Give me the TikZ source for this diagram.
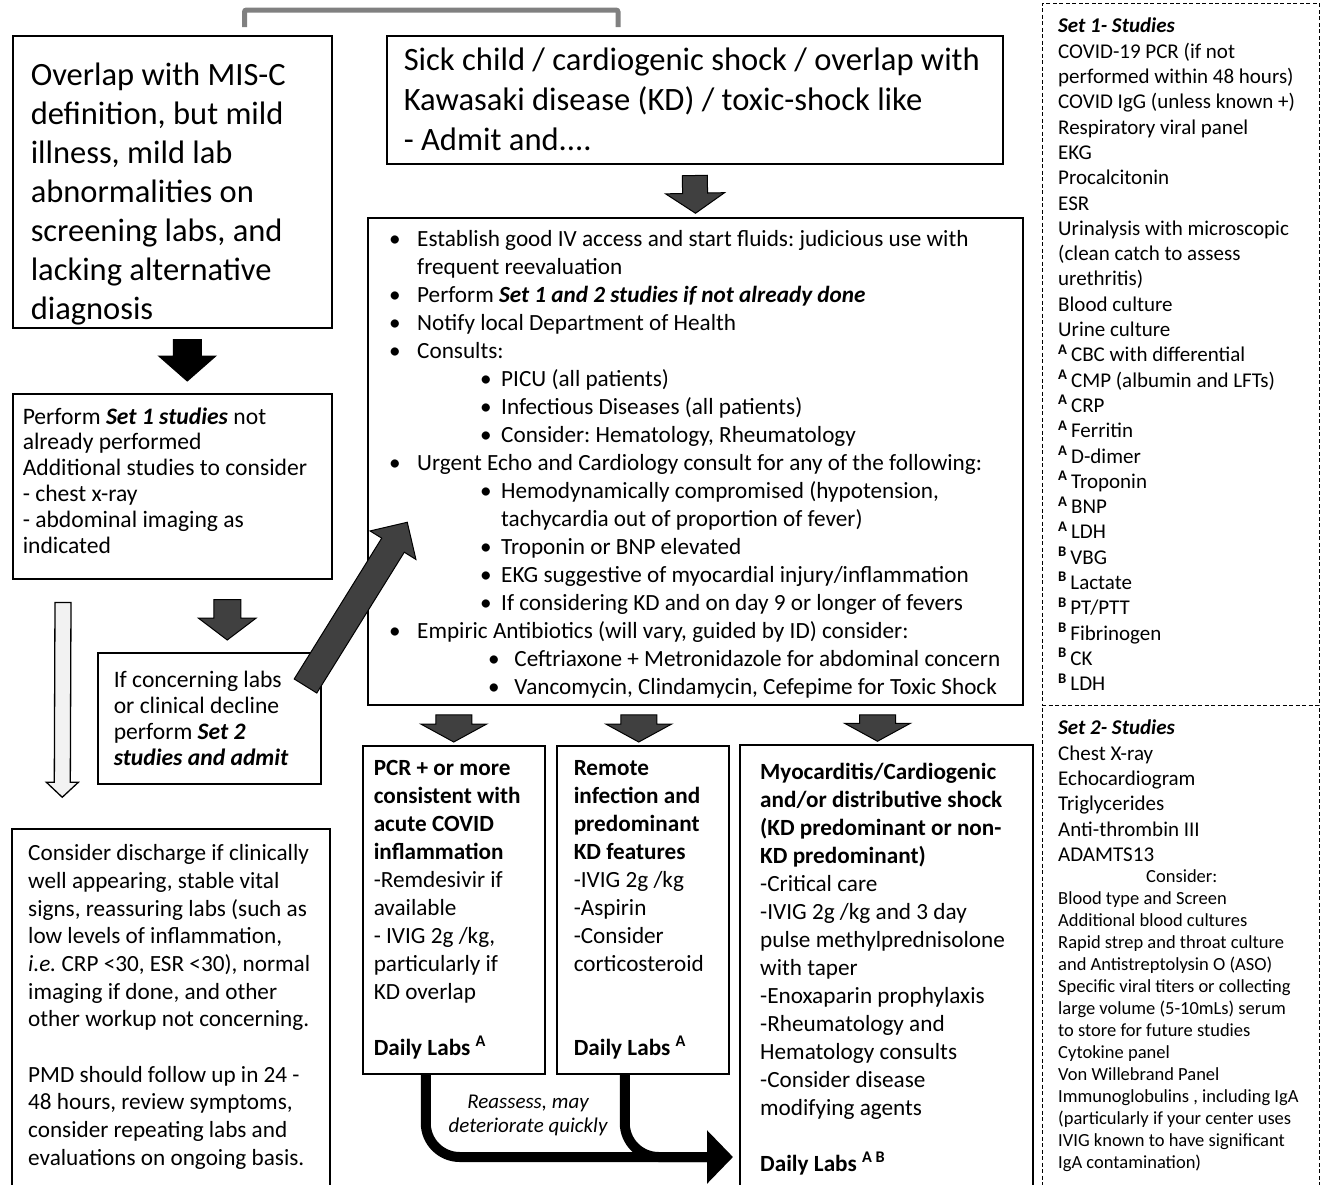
\documentclass[tikz,border=0pt]{standalone}
\usepackage{fontspec}
\setmainfont{Carlito}
\usetikzlibrary{calc,fit,arrows.meta}
\frenchspacing

\definecolor{arrowgray}{HTML}{404040}
\definecolor{bracketgray}{HTML}{808080}
\definecolor{palegray}{HTML}{F2F2F2}

\newcommand\bl{\makebox[28pt][l]{\textbullet}}
\newcommand\sbl[1][91pt]{\hspace*{#1}\makebox[21pt][l]{\textbullet}}
\newcommand\labsup[1]{\textsuperscript{\textbf{#1}}}
% block arrow: style, tail, tip, half shaft, half head, head length
\newcommand\blkarrow[6]{%
  \coordinate (neck) at ($(#3)!#6!(#2)$);
  \filldraw[#1] ($(#2)!#4!90:(#3)$) -- ($(neck)!#4!90:(#3)$)
    -- ($(neck)!#5!90:(#3)$) -- (#3) -- ($(neck)!#5!-90:(#3)$)
    -- ($(neck)!#4!-90:(#3)$) -- ($(#2)!#4!-90:(#3)$) -- cycle;
}

\begin{document}
\begin{tikzpicture}[x=1pt,y=-1pt,
    box/.style={draw,line width=1.5pt,anchor=north west,align=flush left,inner ysep=0pt},
    frame/.style={draw,line width=1.5pt,inner sep=0pt},
    txt/.style={anchor=north west,align=left,inner sep=0pt},
    panel/.style={draw,dash pattern=on 4pt off 2.5pt,line width=1pt,inner sep=0pt},
    big/.style={font=\fontsize{32.5}{39}\selectfont},
    head/.style={font=\fontsize{32.6}{40}\selectfont},
    mid/.style={font=\fontsize{23.6}{25.8}\selectfont},
    ebody/.style={font=\fontsize{23.2}{28}\selectfont},
    body/.style={font=\fontsize{23.2}{28}\selectfont},
    home/.style={font=\fontsize{23.2}{27.7}\selectfont},
    list/.style={font=\fontsize{21}{25.3}\selectfont},
    small/.style={font=\fontsize{18.5}{22}\selectfont},
    darrow/.style={fill=arrowgray,draw=black,line width=1pt},
    karrow/.style={fill=black,draw=black,line width=1pt},
    warrow/.style={fill=palegray,draw=black,line width=1.3pt},
    bracket/.style={draw=bracketgray,line width=5pt,rounded corners=2pt},
    flow/.style={line width=10pt,rounded corners=34pt}]
  \useasboundingbox (0,0) rectangle (1322,1184);
  \clip (0,0) rectangle (1322,1184);

  % entry boxes
  \node[box,big,text width=283pt,inner xsep=18pt,minimum height=292pt] (mild) at (12,35)
    {\rule{0pt}{48pt}Overlap with MIS-C\\definition, but mild\\illness, mild lab\\abnormalities on\\screening labs, and\\lacking alternative\\diagnosis};
  \node[box,head,text width=582pt,inner xsep=17pt,minimum height=128pt] (sick) at (386,35)
    {Sick child / cardiogenic shock / overlap with\\Kawasaki disease (KD) / toxic-shock like\\- Admit and....};
  \draw[bracket] ([xshift=-88pt,yshift=8pt]mild.north east) -- ++(0,-17)
    -| ([xshift=232pt,yshift=8pt]sick.north west);

  % mild branch
  \node[box,mid,text width=299pt,inner xsep=10pt,minimum height=185pt] (setone) at (12,393)
    {Perform \textbf{\textit{Set 1 studies}} not\\already performed\\Additional studies to consider\\- chest x-ray\\- abdominal imaging as\\indicated\rule[-12pt]{0pt}{0pt}};
  \node[box,mid,text width=191pt,inner xsep=16pt,minimum height=131pt] (settwo) at (97,652)
    {If concerning labs\\or clinical decline\\perform \textbf{\textit{Set 2}}\\\textbf{\textit{studies and admit}}};
  \node[frame,fit={(12,829) (330,1195)}] (home) {};
  \node[txt,home] (hometext) at (28,841)
    {\strut Consider discharge if clinically\\well appearing, stable vital\\signs, reassuring labs (such as\\low levels of inflammation,\\\textit{i.e.} CRP <30, ESR <30), normal\\imaging if done, and other\\other workup not concerning.\\[27.7pt]PMD should follow up in 24 -\\48 hours, review symptoms,\\consider repeating labs and\\evaluations on ongoing basis.};

  % admitted branch
  \node[frame,fit={(368,218) (1023,705)}] (admit) {};
  \node[txt,ebody] (admittext) at (389,227)
    {\strut\bl Establish good IV access and start fluids: judicious use with\\
     \hspace*{28pt}frequent reevaluation\\
     \bl Perform \textbf{\textit{Set 1 and 2 studies if not already done}}\\
     \bl Notify local Department of Health\\
     \bl Consults:\\
     \sbl PICU (all patients)\\
     \sbl Infectious Diseases (all patients)\\
     \sbl Consider: Hematology, Rheumatology\\
     \bl Urgent Echo and Cardiology consult for any of the following:\\
     \sbl Hemodynamically compromised (hypotension,\\
     \hspace*{112pt}tachycardia out of proportion of fever)\\
     \sbl Troponin or BNP elevated\\
     \sbl EKG suggestive of myocardial injury/inflammation\\
     \sbl If considering KD and on day 9 or longer of fevers\\
     \bl Empiric Antibiotics (will vary, guided by ID) consider:\\
     \sbl[99pt] Ceftriaxone + Metronidazole for abdominal concern\\
     \sbl[99pt] Vancomycin, Clindamycin, Cefepime for Toxic Shock};
  \node[box,body,text width=160pt,inner xsep=11pt,minimum height=328pt] (pcr) at (362,745)
    {\textbf{PCR + or more}\\\textbf{consistent with}\\\textbf{acute COVID}\\\textbf{inflammation}\\-Remdesivir if\\available\\- IVIG 2g /kg,\\particularly if\\KD overlap\\[28pt]\textbf{Daily Labs \labsup{A}}};
  \node[box,body,text width=138pt,inner xsep=17pt,minimum height=328pt] (remote) at (556,745)
    {\textbf{Remote}\\\textbf{infection and}\\\textbf{predominant}\\\textbf{KD features}\\-IVIG 2g /kg\\-Aspirin\\-Consider\\corticosteroid\\[56pt]\textbf{Daily Labs \labsup{A}}};
  \node[frame,fit={(740,745) (1033,1195)}] (shock) {};
  \node[txt,body] (shocktext) at (760,760)
    {\strut\textbf{Myocarditis/Cardiogenic}\\\textbf{and/or distributive shock}\\\textbf{(KD predominant or non-}\\\textbf{KD predominant)}\\-Critical care\\-IVIG 2g /kg and 3 day\\pulse methylprednisolone\\with taper\\-Enoxaparin prophylaxis\\-Rheumatology and\\Hematology consults\\-Consider disease\\modifying agents\\[28pt]\textbf{Daily Labs \labsup{A B}}};

  % study lists
  \node[panel,fit={(1042,3) (1319,705)}] (studiesone) {};
  \node[panel,fit={(1042,705) (1319,1195)}] (studiestwo) {};
  \node[txt,list] (listone) at (1058,15)
    {\strut\textbf{\textit{Set 1- Studies}}\\COVID-19 PCR (if not\\performed within 48 hours)\\COVID IgG (unless known +)\\Respiratory viral panel\\EKG\\Procalcitonin\\ESR\\Urinalysis with microscopic\\(clean catch to assess\\urethritis)\\Blood culture\\Urine culture\\
     \labsup{A}\,CBC with differential\\\labsup{A}\,CMP (albumin and LFTs)\\\labsup{A}\,CRP\\\labsup{A}\,Ferritin\\\labsup{A}\,D-dimer\\\labsup{A}\,Troponin\\\labsup{A}\,BNP\\\labsup{A}\,LDH\\
     \labsup{B}\,VBG\\\labsup{B}\,Lactate\\\labsup{B}\,PT/PTT\\\labsup{B}\,Fibrinogen\\\labsup{B}\,CK\\\labsup{B}\,LDH};
  \node[txt,list] (listtwo) at (1058,717)
    {\strut\textbf{\textit{Set 2- Studies}}\\Chest X-ray\\Echocardiogram\\Triglycerides\\Anti-thrombin III\\ADAMTS13};
  \node[txt,small] (listmore) at (1058,867)
    {\strut\hspace*{88pt}Consider:\\Blood type and Screen\\Additional blood cultures\\Rapid strep and throat culture\\and Antistreptolysin O (ASO)\\Specific viral titers or collecting\\large volume (5-10mLs) serum\\to store for future studies\\Cytokine panel\\Von Willebrand Panel\\Immunoglobulins , including IgA\\(particularly if your center uses\\IVIG known to have significant\\IgA contamination)};

  % block arrows
  \coordinate (acT) at ([xshift=15pt,yshift=-11pt]mild.south);
  \coordinate (acH) at ([xshift=15pt,yshift=12pt]setone.north);
  \blkarrow{karrow}{acT}{acH}{14pt}{28.5pt}{25pt}
  \coordinate (cdT) at ([xshift=55pt,yshift=-20pt]setone.south);
  \coordinate (cdH) at ([xshift=18pt,yshift=12pt]settwo.north);
  \blkarrow{darrow}{cdT}{cdH}{13.5pt}{29pt}{22pt}
  \coordinate (chT) at ([xshift=51pt,yshift=-23pt]setone.south west);
  \coordinate (chH) at ([xshift=51pt,yshift=31pt]home.north west);
  \blkarrow{warrow}{chT}{chH}{8pt}{16pt}{15pt}
  \coordinate (daT) at ([xshift=-16pt,yshift=-34pt]settwo.north east);
  \coordinate (daH) at ([xshift=40pt,yshift=-305pt]admit.north west);
  \blkarrow{darrow}{daT}{daH}{13.3pt}{27pt}{27pt}
  \coordinate (saT) at ([yshift=-11pt]sick.south);
  \coordinate (saH) at ([yshift=4pt]admit.north);
  \blkarrow{darrow}{saT}{saH}{12.5pt}{29.5pt}{20pt}
  \foreach \dest/\dx in {pcr/0pt,remote/-4pt,shock/-9pt}{
    \coordinate (outT) at ([xshift=\dx,yshift=-9pt]admit.south -| \dest.north);
    \coordinate (outH) at ([xshift=\dx,yshift=3pt]\dest.north);
    \blkarrow{darrow}{outT}{outH}{18pt}{33pt}{18pt}
  }

  % reassess flow
  \coordinate (flowtip) at (733,1157);
  \draw[flow,-{Triangle[length=26pt,width=52pt]}] ([xshift=-28pt]pcr.south) |- (flowtip);
  \draw[flow] ([xshift=-18pt]remote.south) |- ([xshift=-26pt]flowtip);
  \node[font=\fontsize{21}{24}\selectfont\itshape,align=center] (reassess) at (528,1115)
    {Reassess, may\\deteriorate quickly};
\end{tikzpicture}
\end{document}
